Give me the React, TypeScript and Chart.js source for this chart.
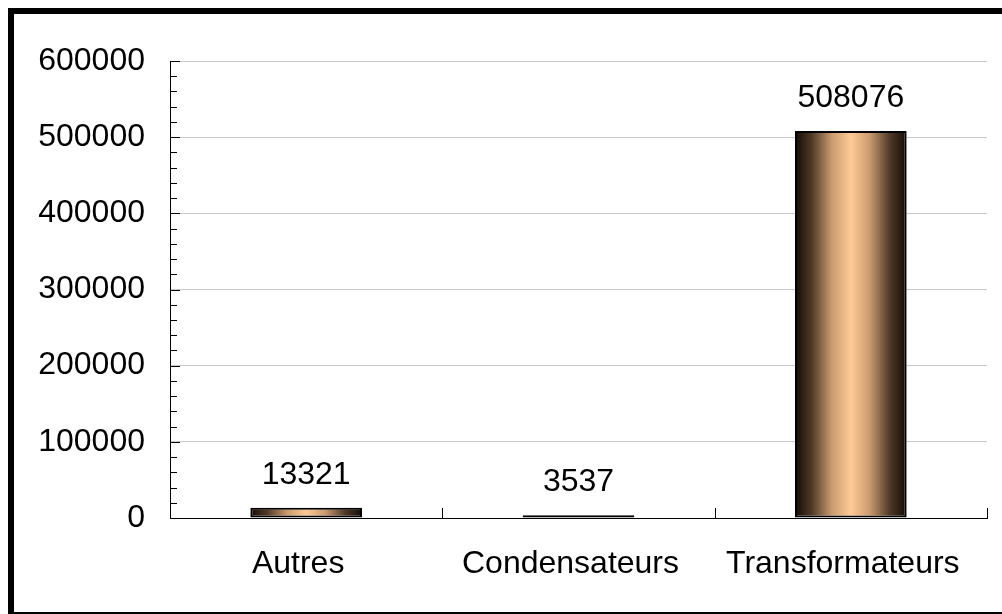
import React, { useEffect, useRef } from "react";
import { Chart, registerables } from "chart.js";

Chart.register(...registerables);

const categories = ["Autres", "Condensateurs", "Transformateurs"];
const values = [13321, 3537, 508076];
const yMax = 600000;
const yStep = 100000;
const yMinorStep = 20000;

const FONT = "'Liberation Sans', Arial, sans-serif";
const FONT_SIZE = 32;

const decorPlugin = {
  id: "decor",
  afterDraw(chart: any) {
    const ctx = chart.ctx;
    const x = chart.scales.x;
    const y = chart.scales.y;
    const area = chart.chartArea;
    ctx.save();
    ctx.strokeStyle = "#000";
    ctx.lineWidth = 1;
    for (let v = 0; v <= yMax; v += yMinorStep) {
      const py = Math.round(y.getPixelForValue(v)) + 0.5;
      const len = v % yStep === 0 ? 10 : 7;
      ctx.beginPath();
      ctx.moveTo(area.left, py);
      ctx.lineTo(area.left + len, py);
      ctx.stroke();
    }
    const n = categories.length;
    for (let i = 1; i <= n; i++) {
      const px = Math.round(x.getPixelForValue(i - 0.5)) + 0.5;
      ctx.beginPath();
      ctx.moveTo(px, area.bottom);
      ctx.lineTo(px, area.bottom - 10);
      ctx.stroke();
    }
    const meta = chart.getDatasetMeta(0);
    ctx.fillStyle = "#000";
    ctx.font = `${FONT_SIZE}px ${FONT}`;
    ctx.textAlign = "center";
    ctx.textBaseline = "middle";
    meta.data.forEach((bar: any, i: number) => {
      ctx.fillText(String(values[i]), bar.x, bar.y - 33);
    });
    ctx.restore();
  },
};

export default function App() {
  const ref = useRef<HTMLCanvasElement | null>(null);
  useEffect(() => {
    if (!ref.current) return;
    const chart = new Chart(ref.current, {
      type: "bar",
      data: {
        labels: categories,
        datasets: [
          {
            data: values,
            borderColor: "#000",
            borderWidth: 2,
            borderSkipped: false,
            categoryPercentage: 1,
            barPercentage: 0.41,
            backgroundColor: (c: any) => {
              const ch = c.chart;
              const xs = ch.scales && ch.scales.x;
              if (!xs || c.dataIndex === undefined) return "#ffc993";
              const cx = xs.getPixelForValue(c.dataIndex);
              const cw = (xs.right - xs.left) / categories.length;
              const w = cw * 0.41;
              if (!isFinite(cx) || !isFinite(w) || w <= 0) return "#ffc993";
              const g = ch.ctx.createLinearGradient(cx - w / 2, 0, cx + w / 2, 0);
              g.addColorStop(0, "#120b04");
              g.addColorStop(0.15, "#4f3926");
              g.addColorStop(0.33, "#c99b70");
              g.addColorStop(0.5, "#ffca94");
              g.addColorStop(0.67, "#c99b70");
              g.addColorStop(0.85, "#4f3926");
              g.addColorStop(1, "#120b04");
              return g;
            },
          },
        ],
      },
      options: {
        animation: false,
        responsive: false,
        maintainAspectRatio: false,
        layout: { padding: { left: 0, top: 61, right: 15, bottom: 0 } },
        plugins: { legend: { display: false }, tooltip: { enabled: false } },
        scales: {
          x: {
            grid: { display: false, drawTicks: false },
            border: { display: true, color: "#000", width: 1 },
            ticks: {
              color: "#000",
              font: { family: FONT, size: FONT_SIZE },
              padding: 27,
              labelOffset: -8,
              maxRotation: 0,
            },
            afterFit: (s: any) => {
              s.height = 96;
            },
          },
          y: {
            min: 0,
            max: yMax,
            grid: { color: "#c8c8c8", drawTicks: false, lineWidth: 1 },
            border: { display: true, color: "#000", width: 1 },
            ticks: {
              stepSize: yStep,
              color: "#000",
              font: { family: FONT, size: FONT_SIZE },
              padding: 25,
              callback: (v: any) => String(v),
            },
            afterFit: (s: any) => {
              s.width = 170;
            },
          },
        },
      },
      plugins: [decorPlugin],
    });
    chart.update();
    return () => chart.destroy();
  }, []);

  return (
    <div
      style={{
        position: "fixed",
        left: 0,
        top: 0,
        width: 1002,
        height: 614,
        overflow: "hidden",
        background: "#fff",
      }}
    >
      <div
        style={{
          position: "absolute",
          left: 8,
          top: 8,
          width: 1010,
          height: 610,
          boxSizing: "border-box",
          border: "6px solid #000",
        }}
      />
      <canvas
        ref={ref}
        width={1002}
        height={614}
        style={{ position: "absolute", left: 0, top: 0, width: 1002, height: 614 }}
      />
    </div>
  );
}
